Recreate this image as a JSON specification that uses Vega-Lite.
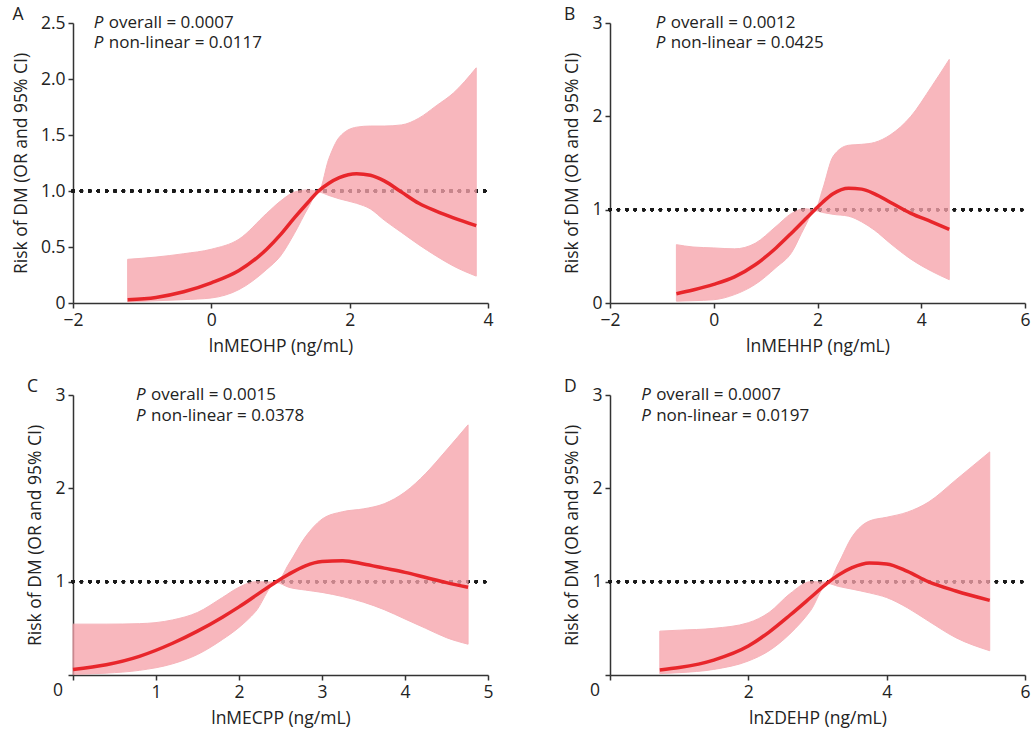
{
  "$schema": "https://vega.github.io/schema/vega-lite/v6.json",
  "padding": {"left": 12, "top": 5, "right": 5, "bottom": 5},
  "datasets": {
    "A": [
      {"x": -1.21, "est": 0.03, "lo": 0.01, "hi": 0.39},
      {"x": -0.8, "est": 0.05, "lo": 0.02, "hi": 0.41},
      {"x": -0.4, "est": 0.10, "lo": 0.03, "hi": 0.44},
      {"x": 0, "est": 0.18, "lo": 0.045, "hi": 0.48},
      {"x": 0.4, "est": 0.29, "lo": 0.12, "hi": 0.57},
      {"x": 0.8, "est": 0.48, "lo": 0.30, "hi": 0.80},
      {"x": 1.0, "est": 0.61, "lo": 0.42, "hi": 0.91},
      {"x": 1.2, "est": 0.76, "lo": 0.62, "hi": 0.99},
      {"x": 1.4, "est": 0.90, "lo": 0.85, "hi": 1.01},
      {"x": 1.55, "est": 1.0, "lo": 0.99, "hi": 1.0},
      {"x": 1.7, "est": 1.07, "lo": 0.96, "hi": 1.29},
      {"x": 1.85, "est": 1.12, "lo": 0.93, "hi": 1.48},
      {"x": 2.1, "est": 1.155, "lo": 0.89, "hi": 1.57},
      {"x": 2.3, "est": 1.14, "lo": 0.84, "hi": 1.58},
      {"x": 2.5, "est": 1.09, "lo": 0.74, "hi": 1.58},
      {"x": 2.75, "est": 0.99, "lo": 0.63, "hi": 1.59},
      {"x": 3.0, "est": 0.89, "lo": 0.52, "hi": 1.65},
      {"x": 3.25, "est": 0.82, "lo": 0.42, "hi": 1.76},
      {"x": 3.5, "est": 0.76, "lo": 0.33, "hi": 1.875},
      {"x": 3.83, "est": 0.69, "lo": 0.24, "hi": 2.10}
    ],
    "B": [
      {"x": -0.72, "est": 0.10, "lo": 0.02, "hi": 0.625},
      {"x": -0.4, "est": 0.14, "lo": 0.025, "hi": 0.60},
      {"x": 0, "est": 0.20, "lo": 0.035, "hi": 0.59},
      {"x": 0.4, "est": 0.28, "lo": 0.09, "hi": 0.58},
      {"x": 0.8, "est": 0.41, "lo": 0.20, "hi": 0.64},
      {"x": 1.2, "est": 0.59, "lo": 0.38, "hi": 0.82},
      {"x": 1.5, "est": 0.75, "lo": 0.54, "hi": 0.96},
      {"x": 1.75, "est": 0.89, "lo": 0.81, "hi": 1.01},
      {"x": 1.95, "est": 1.0, "lo": 0.99, "hi": 1.0},
      {"x": 2.1, "est": 1.08, "lo": 0.97, "hi": 1.22},
      {"x": 2.3, "est": 1.17, "lo": 0.95, "hi": 1.57},
      {"x": 2.6, "est": 1.23, "lo": 0.93, "hi": 1.69},
      {"x": 2.85, "est": 1.22, "lo": 0.87, "hi": 1.70},
      {"x": 3.1, "est": 1.17, "lo": 0.78, "hi": 1.72},
      {"x": 3.4, "est": 1.08, "lo": 0.64, "hi": 1.80},
      {"x": 3.8, "est": 0.96, "lo": 0.47, "hi": 2.0},
      {"x": 4.2, "est": 0.87, "lo": 0.34, "hi": 2.32},
      {"x": 4.54, "est": 0.79, "lo": 0.25, "hi": 2.61}
    ],
    "C": [
      {"x": 0, "est": 0.06, "lo": 0.007, "hi": 0.545},
      {"x": 0.4, "est": 0.11, "lo": 0.02, "hi": 0.545},
      {"x": 0.8, "est": 0.20, "lo": 0.05, "hi": 0.55},
      {"x": 1.2, "est": 0.34, "lo": 0.12, "hi": 0.59},
      {"x": 1.5, "est": 0.47, "lo": 0.22, "hi": 0.67},
      {"x": 1.8, "est": 0.62, "lo": 0.38, "hi": 0.83},
      {"x": 2.0, "est": 0.73, "lo": 0.51, "hi": 0.94},
      {"x": 2.2, "est": 0.85, "lo": 0.68, "hi": 1.0},
      {"x": 2.45, "est": 1.0, "lo": 0.99, "hi": 0.995},
      {"x": 2.6, "est": 1.08, "lo": 0.94, "hi": 1.19},
      {"x": 2.8, "est": 1.17, "lo": 0.91, "hi": 1.48},
      {"x": 3.0, "est": 1.215, "lo": 0.885, "hi": 1.67},
      {"x": 3.25, "est": 1.225, "lo": 0.84, "hi": 1.75},
      {"x": 3.5, "est": 1.19, "lo": 0.78, "hi": 1.78},
      {"x": 3.75, "est": 1.145, "lo": 0.70, "hi": 1.835},
      {"x": 4.0, "est": 1.10, "lo": 0.60, "hi": 1.96},
      {"x": 4.25, "est": 1.045, "lo": 0.50, "hi": 2.16},
      {"x": 4.5, "est": 0.99, "lo": 0.40, "hi": 2.41},
      {"x": 4.76, "est": 0.94, "lo": 0.33, "hi": 2.68}
    ],
    "D": [
      {"x": 0.72, "est": 0.054, "lo": 0.015, "hi": 0.47},
      {"x": 1.0, "est": 0.08, "lo": 0.025, "hi": 0.48},
      {"x": 1.5, "est": 0.16, "lo": 0.06, "hi": 0.50},
      {"x": 2.0, "est": 0.31, "lo": 0.15, "hi": 0.56},
      {"x": 2.3, "est": 0.46, "lo": 0.26, "hi": 0.67},
      {"x": 2.6, "est": 0.64, "lo": 0.44, "hi": 0.87},
      {"x": 2.9, "est": 0.83, "lo": 0.69, "hi": 1.0},
      {"x": 3.15, "est": 0.99, "lo": 0.98, "hi": 0.995},
      {"x": 3.3, "est": 1.07, "lo": 0.95, "hi": 1.19},
      {"x": 3.5, "est": 1.15, "lo": 0.92, "hi": 1.48},
      {"x": 3.75, "est": 1.20, "lo": 0.88, "hi": 1.65},
      {"x": 4.0, "est": 1.19, "lo": 0.83, "hi": 1.69},
      {"x": 4.3, "est": 1.11, "lo": 0.72, "hi": 1.745},
      {"x": 4.6, "est": 1.00, "lo": 0.58, "hi": 1.85},
      {"x": 5.0, "est": 0.90, "lo": 0.40, "hi": 2.09},
      {"x": 5.49, "est": 0.80, "lo": 0.26, "hi": 2.39}
    ]
  },
  "columns": 2,
  "spacing": {"column": 69, "row": 22},
  "concat": [
    {
      "width": 415, "height": 280,
      "title": "A",
      "data": {"name": "A"},
      "encoding": {
        "x": {"field": "x", "type": "quantitative", "scale": {"domain": [-2, 4], "nice": false}, "axis": {"values": [-2, 0, 2, 4]}, "title": "lnMEOHP (ng/mL)"},
        "y": {"field": "est", "type": "quantitative", "scale": {"domain": [0, 2.5], "nice": false}, "axis": {"values": [0, 0.5, 1, 1.5, 2, 2.5], "labelExpr": "datum.value === 0 ? '0' : format(datum.value, '.1f')"}, "title": "Risk of DM (OR and 95% CI)"}
      },
      "layer": [
        {"mark": {"type": "rule", "strokeDash": [0.1, 8.3], "strokeCap": "round", "strokeWidth": 3.3, "color": "#1a1a1a"},
         "encoding": {"x": {"datum": -2}, "x2": {"datum": 4}, "y": {"datum": 1}}},
        {"mark": {"type": "area", "interpolate": "monotone", "color": "#f7a3ab", "opacity": 0.78, "stroke": "#f4a0a8", "strokeWidth": 1},
         "encoding": {"y": {"field": "lo"}, "y2": {"field": "hi"}}},
        {"mark": {"type": "line", "interpolate": "monotone", "color": "#e8262b", "strokeWidth": 3.5}},
        {"data": {"values": [{"x": -1.7, "est": 2.5, "rest": "overall = 0.0007"}, {"x": -1.7, "est": 2.32, "rest": "non-linear = 0.0117"}]},
         "mark": {"type": "text", "align": "left", "baseline": "middle", "fontSize": 17, "fontStyle": "italic", "color": "#222"},
         "encoding": {"text": {"value": "P"}}},
        {"data": {"values": [{"x": -1.7, "est": 2.5, "rest": "overall = 0.0007"}, {"x": -1.7, "est": 2.32, "rest": "non-linear = 0.0117"}]},
         "mark": {"type": "text", "align": "left", "baseline": "middle", "fontSize": 17, "dx": 15, "color": "#222"},
         "encoding": {"text": {"field": "rest"}}}
      ]
    },
    {
      "width": 415, "height": 280,
      "title": "B",
      "data": {"name": "B"},
      "encoding": {
        "x": {"field": "x", "type": "quantitative", "scale": {"domain": [-2, 6], "nice": false}, "axis": {"values": [-2, 0, 2, 4, 6]}, "title": "lnMEHHP (ng/mL)"},
        "y": {"field": "est", "type": "quantitative", "scale": {"domain": [0, 3], "nice": false}, "axis": {"values": [0, 1, 2, 3]}, "title": "Risk of DM (OR and 95% CI)"}
      },
      "layer": [
        {"mark": {"type": "rule", "strokeDash": [0.1, 8.3], "strokeCap": "round", "strokeWidth": 3.3, "color": "#1a1a1a"},
         "encoding": {"x": {"datum": -2}, "x2": {"datum": 6}, "y": {"datum": 1}}},
        {"mark": {"type": "area", "interpolate": "monotone", "color": "#f7a3ab", "opacity": 0.78, "stroke": "#f4a0a8", "strokeWidth": 1},
         "encoding": {"y": {"field": "lo"}, "y2": {"field": "hi"}}},
        {"mark": {"type": "line", "interpolate": "monotone", "color": "#e8262b", "strokeWidth": 3.5}},
        {"data": {"values": [{"x": -1.12, "est": 3.0, "rest": "overall = 0.0012"}, {"x": -1.12, "est": 2.786, "rest": "non-linear = 0.0425"}]},
         "mark": {"type": "text", "align": "left", "baseline": "middle", "fontSize": 17, "fontStyle": "italic", "color": "#222"},
         "encoding": {"text": {"value": "P"}}},
        {"data": {"values": [{"x": -1.12, "est": 3.0, "rest": "overall = 0.0012"}, {"x": -1.12, "est": 2.786, "rest": "non-linear = 0.0425"}]},
         "mark": {"type": "text", "align": "left", "baseline": "middle", "fontSize": 17, "dx": 15, "color": "#222"},
         "encoding": {"text": {"field": "rest"}}}
      ]
    },
    {
      "width": 415, "height": 280,
      "title": "C",
      "data": {"name": "C"},
      "encoding": {
        "x": {"field": "x", "type": "quantitative", "scale": {"domain": [0, 5], "nice": false}, "axis": {"values": [0, 1, 2, 3, 4, 5], "labelExpr": "datum.value === 0 ? '' : datum.label"}, "title": "lnMECPP (ng/mL)"},
        "y": {"field": "est", "type": "quantitative", "scale": {"domain": [0, 3], "nice": false}, "axis": {"values": [0, 1, 2, 3], "labelExpr": "datum.value === 0 ? '' : datum.label"}, "title": "Risk of DM (OR and 95% CI)"}
      },
      "layer": [
        {"mark": {"type": "rule", "strokeDash": [0.1, 8.3], "strokeCap": "round", "strokeWidth": 3.3, "color": "#1a1a1a"},
         "encoding": {"x": {"datum": 0}, "x2": {"datum": 5}, "y": {"datum": 1}}},
        {"mark": {"type": "area", "interpolate": "monotone", "color": "#f7a3ab", "opacity": 0.78, "stroke": "#f4a0a8", "strokeWidth": 1},
         "encoding": {"y": {"field": "lo"}, "y2": {"field": "hi"}}},
        {"mark": {"type": "line", "interpolate": "monotone", "color": "#e8262b", "strokeWidth": 3.5}},
        {"data": {"values": [{"x": 0.76, "est": 3.0, "rest": "overall = 0.0015"}, {"x": 0.76, "est": 2.78, "rest": "non-linear = 0.0378"}]},
         "mark": {"type": "text", "align": "left", "baseline": "middle", "fontSize": 17, "fontStyle": "italic", "color": "#222"},
         "encoding": {"text": {"value": "P"}}},
        {"data": {"values": [{"x": 0.76, "est": 3.0, "rest": "overall = 0.0015"}, {"x": 0.76, "est": 2.78, "rest": "non-linear = 0.0378"}]},
         "mark": {"type": "text", "align": "left", "baseline": "middle", "fontSize": 17, "dx": 15, "color": "#222"},
         "encoding": {"text": {"field": "rest"}}},
        {"data": {"values": [{"x": 0, "est": 0, "label": "0"}]},
         "mark": {"type": "text", "align": "center", "baseline": "middle", "fontSize": 17.5, "dx": -15, "dy": 16, "color": "#222"},
         "encoding": {"text": {"field": "label"}}}
      ]
    },
    {
      "width": 415, "height": 280,
      "title": "D",
      "data": {"name": "D"},
      "encoding": {
        "x": {"field": "x", "type": "quantitative", "scale": {"domain": [0, 6], "nice": false}, "axis": {"values": [0, 2, 4, 6], "labelExpr": "datum.value === 0 ? '' : datum.label"}, "title": "lnΣDEHP (ng/mL)"},
        "y": {"field": "est", "type": "quantitative", "scale": {"domain": [0, 3], "nice": false}, "axis": {"values": [0, 1, 2, 3], "labelExpr": "datum.value === 0 ? '' : datum.label"}, "title": "Risk of DM (OR and 95% CI)"}
      },
      "layer": [
        {"mark": {"type": "rule", "strokeDash": [0.1, 8.3], "strokeCap": "round", "strokeWidth": 3.3, "color": "#1a1a1a"},
         "encoding": {"x": {"datum": 0}, "x2": {"datum": 6}, "y": {"datum": 1}}},
        {"mark": {"type": "area", "interpolate": "monotone", "color": "#f7a3ab", "opacity": 0.78, "stroke": "#f4a0a8", "strokeWidth": 1},
         "encoding": {"y": {"field": "lo"}, "y2": {"field": "hi"}}},
        {"mark": {"type": "line", "interpolate": "monotone", "color": "#e8262b", "strokeWidth": 3.5}},
        {"data": {"values": [{"x": 0.45, "est": 3.0, "rest": "overall = 0.0007"}, {"x": 0.45, "est": 2.78, "rest": "non-linear = 0.0197"}]},
         "mark": {"type": "text", "align": "left", "baseline": "middle", "fontSize": 17, "fontStyle": "italic", "color": "#222"},
         "encoding": {"text": {"value": "P"}}},
        {"data": {"values": [{"x": 0.45, "est": 3.0, "rest": "overall = 0.0007"}, {"x": 0.45, "est": 2.78, "rest": "non-linear = 0.0197"}]},
         "mark": {"type": "text", "align": "left", "baseline": "middle", "fontSize": 17, "dx": 15, "color": "#222"},
         "encoding": {"text": {"field": "rest"}}},
        {"data": {"values": [{"x": 0, "est": 0, "label": "0"}]},
         "mark": {"type": "text", "align": "center", "baseline": "middle", "fontSize": 17.5, "dx": -15, "dy": 16, "color": "#222"},
         "encoding": {"text": {"field": "label"}}}
      ]
    }
  ],
  "config": {
    "font": "Open Sans",
    "view": {"stroke": null},
    "axis": {"domainColor": "#333", "domainWidth": 1.5, "tickColor": "#333", "tickWidth": 1.5, "tickSize": 5, "labelFontSize": 17.5, "labelColor": "#222", "titleFontSize": 17.5, "titleFontWeight": "normal", "titleColor": "#222", "grid": false, "labelPadding": 3, "titlePadding": 9, "labelFlush": false, "labelOverlap": false},
    "axisY": {"titlePadding": 10},
    "title": {"anchor": "start", "fontSize": 17.5, "fontWeight": "normal", "offset": -9, "frame": "bounds", "color": "#222"}
  }
}
